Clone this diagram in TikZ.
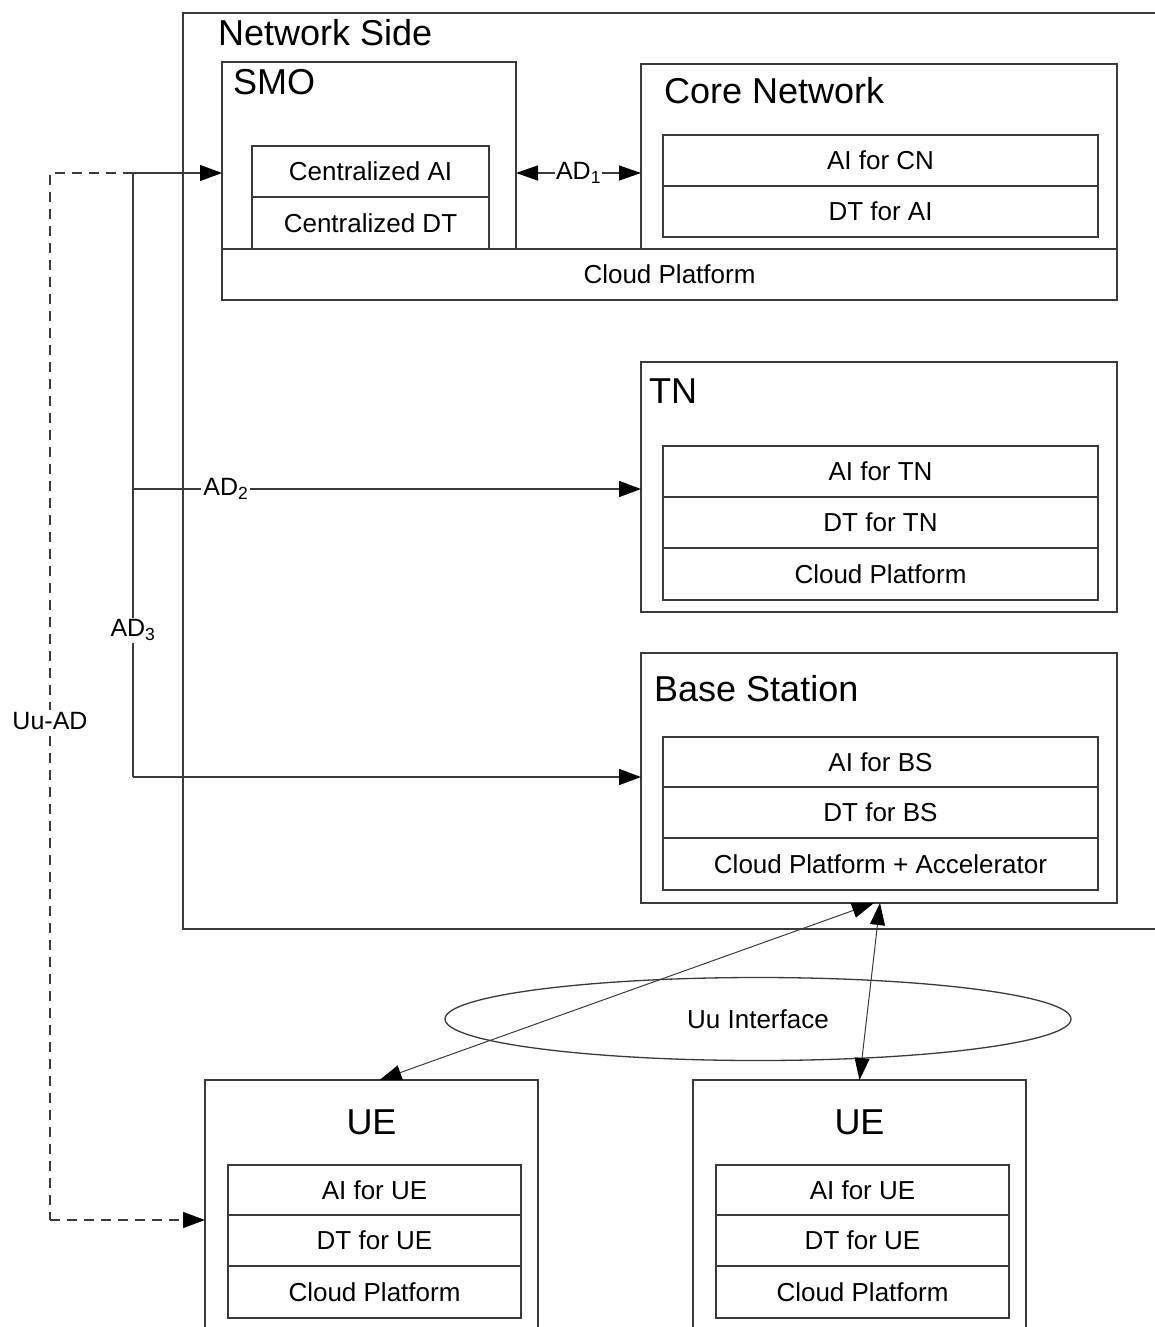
\documentclass[tikz,border=0pt]{standalone}
\usepackage{fontspec}
\setmainfont{Liberation Sans}
\usetikzlibrary{arrows.meta,shapes.geometric}
\definecolor{linec}{HTML}{3A3A3A}
\begin{document}
\begin{tikzpicture}[x=1pt,y=-1pt,
  frame/.style={draw=linec, line width=1.3pt, rectangle, inner sep=0pt, outer sep=0pt},
  cell/.style={frame, minimum width=435pt, font=\fontsize{26}{30}\selectfont},
  uecell/.style={frame, minimum width=293pt, font=\fontsize{26}{30}\selectfont},
  title/.style={font=\fontsize{36}{42}\selectfont, inner sep=0pt, anchor=west},
  flow/.style={draw=linec, line width=1.3pt},
  tip/.style={-{Triangle[length=22pt,width=16pt,color=black]}},
  bitip/.style={{Triangle[length=22pt,width=15pt,color=black]}-{Triangle[length=22pt,width=15pt,color=black]}},
  lbl/.style={fill=white, inner sep=2pt, font=\fontsize{25}{30}\selectfont},
  uudash/.style={flow, dash pattern=on 10pt off 7pt}]
\useasboundingbox (0,0) rectangle (1155,1327);

% network side container (its right edge runs past the page)
\node[frame, minimum width=1022pt, minimum height=916pt] (net) at (694,471) {};
\node[title] (netlbl) at (218,33) {Network Side};

% SMO
\node[frame, minimum width=294pt, minimum height=187pt] (smo) at (369,155.5) {};
\node[title] (smolbl) at (233,82) {SMO};
\node[frame, minimum width=237pt, minimum height=51pt, font=\fontsize{26}{30}\selectfont] (cai) at (370.5,171.5) {Centralized AI};
\node[frame, minimum width=237pt, minimum height=52pt, font=\fontsize{26}{30}\selectfont] (cdt) at (370.5,223) {Centralized DT};

% core network
\node[frame, minimum width=476pt, minimum height=185pt] (cn) at (879,156.5) {};
\node[title] (cnlbl) at (664,91) {Core Network};
\node[cell, minimum height=51pt] (aicn) at (880.5,160.5) {AI for CN};
\node[cell, minimum height=51pt] (dtai) at (880.5,211.5) {DT for AI};

% shared cloud platform
\node[frame, fill=white, minimum width=895pt, minimum height=51pt, font=\fontsize{26}{30}\selectfont] (cloud) at (669.5,274.5) {Cloud Platform};

% transport network
\node[frame, minimum width=476pt, minimum height=250pt] (tn) at (879,487) {};
\node[title] (tnlbl) at (649,391) {TN};
\node[cell, minimum height=51pt] (aitn) at (880.5,471.5) {AI for TN};
\node[cell, minimum height=51pt] (dttn) at (880.5,522.5) {DT for TN};
\node[cell, minimum height=52pt] (cptn) at (880.5,574) {Cloud Platform};

% base station
\node[frame, minimum width=476pt, minimum height=250pt] (bs) at (879,778) {};
\node[title] (bslbl) at (654,689) {Base Station};
\node[cell, minimum height=50pt] (aibs) at (880.5,762) {AI for BS};
\node[cell, minimum height=51pt] (dtbs) at (880.5,812.5) {DT for BS};
\node[cell, minimum height=52pt] (cpbs) at (880.5,864) {Cloud Platform + Accelerator};

% user equipment
\node[frame, minimum width=333pt, minimum height=280pt] (ueA) at (371.5,1220) {};
\node[title, anchor=center] (ueAlbl) at (371.5,1122) {UE};
\node[uecell, minimum height=50pt] (aiueA) at (374.5,1190) {AI for UE};
\node[uecell, minimum height=51pt] (dtueA) at (374.5,1240.5) {DT for UE};
\node[uecell, minimum height=52pt] (cpueA) at (374.5,1292) {Cloud Platform};

\node[frame, minimum width=333pt, minimum height=280pt] (ueB) at (859.5,1220) {};
\node[title, anchor=center] (ueBlbl) at (859.5,1122) {UE};
\node[uecell, minimum height=50pt] (aiueB) at (862.5,1190) {AI for UE};
\node[uecell, minimum height=51pt] (dtueB) at (862.5,1240.5) {DT for UE};
\node[uecell, minimum height=52pt] (cpueB) at (862.5,1292) {Cloud Platform};

% air interface
\node[ellipse, draw=linec, line width=1.3pt, minimum width=626pt, minimum height=83pt, inner sep=0pt,
      font=\fontsize{26}{30}\selectfont] (uu) at (758,1019) {Uu Interface};

% AD1 between SMO and core network
\coordinate (a1) at (516,173);
\draw[flow, bitip] (a1) -- (a1 -| cn.west) node[lbl, midway, inner sep=1pt] {AD\textsubscript{1}};

% AD trunk from the SMO
\coordinate (j1) at (133,173);
\coordinate (j2) at (133,489);
\coordinate (j3) at (133,777);
\draw[flow, tip] (j1) -- (j1 -| smo.west);
\draw[flow] (j1) -- (j3) node[lbl, pos=0.757] {AD\textsubscript{3}};
\draw[flow, tip] (j2) -- (j2 -| tn.west) node[lbl, pos=0.183] {AD\textsubscript{2}};
\draw[flow, tip] (j3) -- (j3 -| bs.west);

% Uu-AD dashed path to the UE
\coordinate (d1) at (50,173);
\coordinate (d2) at (50,1220);
\draw[uudash] (j1) -- (d1) -- (d2) node[lbl, pos=0.523, solid] {Uu-AD};
\draw[uudash, tip] (d2) -- (d2 -| ueA.west);

% Uu links between base station and UEs
\draw[flow, line width=1pt, bitip] ([xshift=8pt]ueA.north) -- ([xshift=-5pt]bs.south);
\draw[flow, line width=1pt, bitip] (ueB.north) -- ([xshift=1pt]bs.south);
\end{tikzpicture}
\end{document}
